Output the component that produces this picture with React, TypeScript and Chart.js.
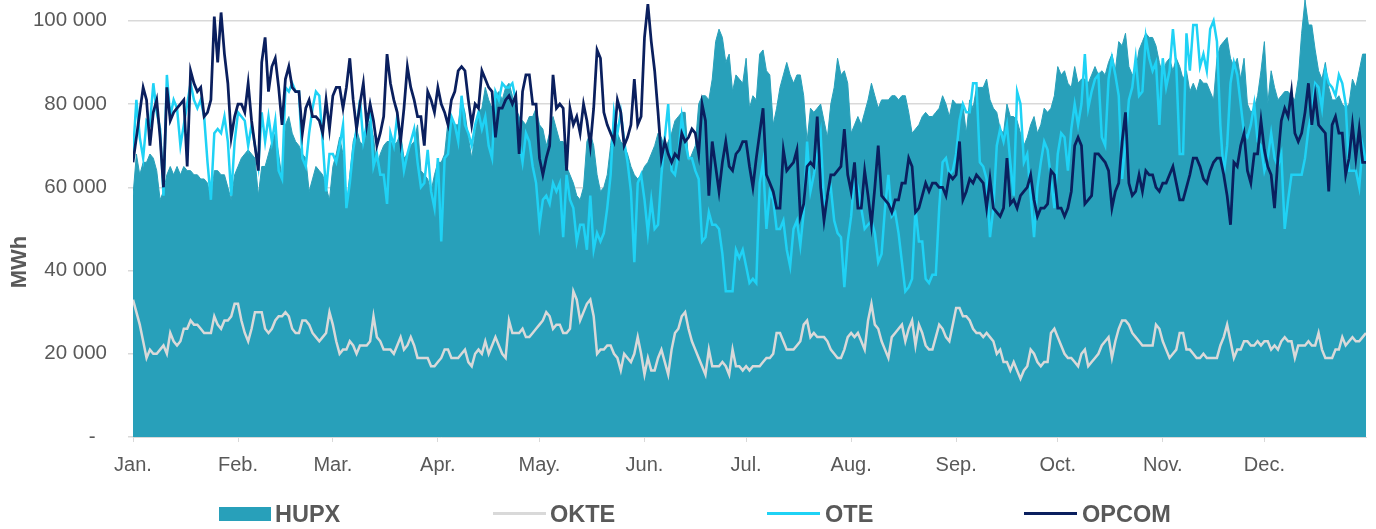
import React, { useEffect, useRef } from 'react';
import { Chart, registerables } from 'chart.js';

Chart.register(...registerables);

// ---- categories / ticks ----
const monthLabels = ['Jan.', 'Feb.', 'Mar.', 'Apr.', 'May.', 'Jun.', 'Jul.', 'Aug.', 'Sep.', 'Oct.', 'Nov.', 'Dec.'];
const monthStartDays = [0, 31, 59, 90, 120, 151, 181, 212, 243, 273, 304, 334];
const yTickValues = [0, 20000, 40000, 60000, 80000, 100000];
const seriesNames = ['HUPX', 'OKTE', 'OTE', 'OPCOM'];

// ---- daily values, thousand MWh (day 0 = 1 Jan) ----
const hupxK = [
  58, 68, 63, 66, 66, 68, 67, 64, 57, 59,
  63, 65, 63, 65, 63, 65, 64, 64, 63, 63,
  62, 62, 61, 57, 64, 64, 63, 63, 60, 57,
  63, 65, 67, 68, 69, 68, 67, 58, 65, 65,
  68, 71, 73, 68, 62, 75, 77, 73, 71, 70,
  68, 67, 59, 62, 65, 64, 63, 60, 57, 65,
  68, 72, 68, 55, 63, 71, 74, 71, 70, 74,
  76, 72, 65, 68, 70, 71, 71, 70, 71, 73,
  67, 68, 70, 71, 75, 64, 63, 62, 59, 63,
  66, 66, 68, 76, 77, 75, 75, 81, 78, 72,
  67, 73, 78, 79, 84, 81, 79, 82, 83, 81,
  84, 85, 82, 79, 77, 76, 75, 77, 77, 79,
  75, 74, 70, 73, 77, 74, 71, 71, 65, 63,
  61, 58, 57, 60, 71, 73, 70, 63, 59, 60,
  63, 70, 77, 73, 71, 70, 68, 65, 63, 62,
  63, 65, 66, 68, 70, 73, 72, 69, 71, 73,
  76, 77, 78, 78, 66, 68, 70, 80, 82, 82,
  81, 86, 95, 98, 96, 90, 92, 83, 87, 86,
  85, 91, 79, 82, 81, 92, 93, 88, 87, 75,
  79, 84, 87, 90, 87, 85, 87, 87, 82, 71,
  79, 78, 79, 80, 76, 72, 80, 84, 91, 87,
  88, 85, 73, 75, 77, 75, 78, 81, 85, 82,
  79, 81, 81, 81, 82, 82, 81, 82, 82, 78,
  73, 74, 75, 77, 78, 77, 77, 78, 79, 82,
  80, 77, 81, 80, 80, 80, 73, 81, 79, 84,
  84, 84, 86, 81, 79, 78, 74, 73, 80, 77,
  77, 76, 73, 70, 72, 75, 77, 73, 75, 79,
  78, 79, 82, 89, 87, 88, 85, 84, 89, 85,
  86, 86, 85, 87, 89, 87, 88, 87, 90, 92,
  88, 95, 94, 97, 89, 87, 88, 93, 95, 97,
  96, 96, 94, 90, 87, 90, 91, 88, 91, 89,
  86, 88, 83, 85, 83, 86, 85, 85, 83, 81,
  91, 94, 95, 96, 91, 89, 91, 86, 91, 80,
  78, 79, 82, 88, 95, 80, 88, 84, 81, 82,
  83, 83, 82, 81, 86, 97, 105, 99, 99, 93,
  88, 86, 90, 84, 81, 81, 82, 80, 79, 80,
  86, 84, 88, 92, 92,
];

const okteK = [
  33, 30, 27, 23, 19, 21, 20, 20, 21, 22,
  20, 25, 23, 22, 23, 26, 26, 28, 27, 27,
  26, 25, 25, 25, 29, 27, 26, 28, 28, 29,
  32, 32, 28, 25, 23, 26, 30, 30, 30, 26,
  25, 26, 28, 29, 29, 30, 29, 26, 25, 25,
  28, 28, 27, 25, 24, 23, 24, 25, 30, 27,
  23, 20, 21, 21, 23, 22, 20, 22, 22, 22,
  23, 29, 24, 23, 21, 21, 21, 20, 22, 24,
  21, 22, 24, 22, 19, 19, 19, 19, 17, 17,
  18, 19, 21, 21, 19, 19, 19, 20, 21, 18,
  17, 20, 21, 20, 23, 20, 22, 24, 22, 20,
  19, 28, 25, 25, 25, 26, 24, 24, 25, 26,
  27, 28, 30, 29, 26, 27, 27, 25, 25, 26,
  35, 33, 28, 30, 32, 33, 29, 20, 21, 21,
  22, 22, 20, 19, 16, 20, 19, 18, 20, 24,
  20, 15, 19, 16, 16, 19, 21, 18, 15, 21,
  25, 26, 29, 30, 26, 23, 21, 19, 17, 15,
  21, 17, 17, 17, 18, 17, 15, 21, 17, 17,
  16, 17, 16, 17, 17, 17, 18, 19, 19, 20,
  25, 25, 23, 21, 21, 21, 22, 23, 27, 28,
  24, 25, 24, 24, 24, 23, 21, 20, 19, 19,
  21, 24, 25, 24, 25, 23, 21, 28, 32, 27,
  26, 23, 21, 19, 24, 25, 26, 27, 23, 26,
  28, 22, 27, 25, 22, 21, 21, 24, 27, 26,
  24, 23, 27, 31, 31, 29, 29, 28, 26, 25,
  25, 24, 25, 24, 23, 20, 21, 18, 18, 16,
  18, 16, 14, 16, 17, 21, 20, 18, 17, 18,
  18, 25, 26, 24, 22, 20, 19, 19, 18, 17,
  20, 21, 17, 18, 19, 20, 22, 23, 24, 19,
  23, 26, 28, 28, 27, 25, 24, 23, 22, 22,
  22, 22, 27, 26, 23, 21, 19, 20, 21, 25,
  25, 21, 21, 20, 19, 19, 20, 19, 19, 19,
  19, 22, 24, 27, 23, 19, 21, 21, 23, 23,
  22, 22, 23, 22, 23, 23, 21, 22, 21, 23,
  24, 23, 23, 19, 22, 22, 22, 23, 22, 22,
  25, 21, 19, 19, 19, 21, 21, 24, 22, 23,
  24, 23, 23, 24, 25,
];

const oteK = [
  68, 81, 72, 67, 76, 75, 85, 78, 74, 58,
  87, 77, 81, 79, 70, 75, 80, 85, 81, 79,
  81, 77, 66, 57, 73, 74, 73, 77, 71, 58,
  71, 78, 77, 76, 70, 75, 70, 65, 78, 71,
  77, 71, 76, 64, 62, 84, 83, 85, 83, 83,
  67, 65, 73, 79, 83, 82, 71, 59, 68, 68,
  66, 70, 75, 55, 61, 69, 74, 81, 71, 75,
  79, 65, 68, 63, 63, 56, 73, 70, 77, 71,
  64, 68, 71, 74, 66, 60, 61, 69, 59, 55,
  67, 47, 67, 68, 77, 75, 71, 82, 75, 73,
  70, 75, 78, 74, 77, 70, 67, 83, 81, 85,
  84, 84, 85, 81, 71, 66, 73, 71, 65, 61,
  51, 57, 58, 56, 61, 59, 61, 48, 63, 57,
  55, 47, 51, 51, 45, 58, 45, 49, 47, 49,
  55, 63, 78, 73, 78, 71, 66, 59, 42, 61,
  63, 57, 49, 57, 50, 51, 63, 72, 80, 64,
  63, 68, 77, 71, 67, 67, 64, 62, 47, 48,
  54, 51, 51, 50, 44, 35, 35, 35, 45, 43,
  45, 41, 37, 38, 37, 61, 66, 50, 59, 57,
  50, 50, 52, 45, 41, 50, 52, 46, 54, 71,
  59, 63, 68, 73, 56, 58, 60, 52, 49, 48,
  36, 47, 53, 63, 60, 55, 50, 51, 52, 49,
  42, 44, 55, 63, 53, 54, 49, 42, 35, 36,
  38, 55, 47, 47, 38, 37, 39, 39, 55, 66,
  67, 63, 64, 68, 76, 80, 78, 78, 85, 85,
  66, 65, 62, 48, 55, 70, 74, 71, 75, 66,
  58, 83, 80, 66, 68, 58, 48, 60, 66, 71,
  69, 62, 55, 68, 73, 72, 64, 74, 80, 75,
  80, 92, 79, 83, 86, 87, 72, 70, 86, 91,
  87, 82, 62, 71, 81, 84, 91, 82, 83, 96,
  91, 88, 90, 75, 91, 84, 88, 98, 89, 68,
  68, 97, 88, 99, 99, 89, 92, 88, 98, 100,
  95, 75, 63, 70, 85, 90, 87, 80, 73, 72,
  75, 80, 71, 70, 64, 67, 73, 67, 65, 68,
  50, 57, 63, 63, 63, 63, 67, 74, 78, 85,
  84, 79, 88, 85, 84, 82, 87, 85, 80, 64,
  64, 64, 60, 70, 66,
];

const opcomK = [
  66, 72, 78, 84, 81, 70, 78, 81, 72, 60,
  84, 76, 78, 79, 80, 81, 65, 88, 85, 83,
  84, 77, 78, 81, 101, 90, 102, 92, 85, 72,
  77, 80, 80, 78, 85, 76, 70, 64, 90, 96,
  83, 89, 91, 84, 75, 86, 89, 84, 83, 83,
  73, 79, 81, 77, 77, 76, 73, 81, 74, 82,
  84, 84, 79, 84, 91, 81, 74, 80, 85, 75,
  80, 76, 70, 73, 77, 92, 85, 81, 78, 71,
  79, 89, 84, 81, 77, 77, 70, 83, 81, 78,
  84, 80, 78, 75, 81, 83, 88, 89, 88, 81,
  75, 80, 79, 88, 86, 84, 83, 72, 79, 79,
  81, 82, 80, 82, 68, 83, 87, 87, 80, 80,
  67, 63, 67, 70, 87, 79, 80, 79, 64, 79,
  75, 77, 73, 80, 76, 70, 79, 93, 91, 78,
  75, 73, 71, 81, 78, 70, 72, 75, 86, 75,
  77, 96, 104, 95, 88, 78, 67, 71, 68, 66,
  68, 67, 73, 71, 72, 74, 73, 68, 80, 76,
  58, 71, 65, 59, 66, 71, 65, 64, 68, 69,
  71, 71, 65, 60, 67, 73, 79, 63, 61, 59,
  55, 55, 69, 64, 65, 66, 69, 53, 56, 65,
  66, 65, 77, 60, 52, 58, 63, 63, 64, 65,
  74, 63, 59, 66, 55, 55, 64, 58, 51, 60,
  70, 58, 57, 56, 54, 57, 57, 61, 61, 67,
  65, 54, 55, 58, 61, 59, 61, 61, 60, 60,
  58, 63, 62, 63, 71, 57, 59, 62, 61, 63,
  62, 61, 55, 62, 55, 54, 53, 55, 67, 56,
  57, 55, 58, 59, 60, 63, 57, 53, 55, 55,
  56, 64, 63, 55, 55, 53, 55, 59, 70, 72,
  70, 56, 57, 58, 68, 68, 67, 66, 64, 55,
  59, 61, 71, 78, 61, 58, 59, 63, 59, 64,
  63, 63, 60, 59, 61, 61, 63, 65, 61, 57,
  57, 60, 63, 67, 67, 65, 62, 61, 64, 66,
  67, 67, 63, 58, 51, 66, 65, 70, 73, 64,
  61, 68, 68, 76, 69, 65, 63, 55, 67, 76,
  79, 77, 83, 73, 71, 73, 78, 85, 75, 82,
  75, 74, 73, 59, 75, 77, 73, 73, 63, 67,
  75, 67, 74, 66, 66,
];

const TEAL = '#28A0BA';
const GRAY_LINE = '#D9D9D9';
const CYAN = '#1FD2F5';
const NAVY = '#0A1F5E';
const TEXT = '#595959';
const FONT = "'Liberation Sans', Arial, Helvetica, sans-serif";

const toPoints = (arr: number[]) => arr.map((v, i) => ({ x: i, y: v * 1000 }));
const fmt = (v: number) => (v === 0 ? '-  ' : String(v).replace(/\B(?=(\d{3})+(?!\d))/g, ' '));

const yTitlePlugin = {
  id: 'yTitle',
  afterDraw(chart: any) {
    const ctx = chart.ctx;
    ctx.save();
    ctx.translate(20, 262);
    ctx.rotate(-Math.PI / 2);
    ctx.font = `bold 22px ${FONT}`;
    ctx.fillStyle = TEXT;
    ctx.textAlign = 'center';
    ctx.textBaseline = 'middle';
    ctx.fillText('MWh', 0, 0);
    ctx.restore();
  },
};

export default function App() {
  const canvasRef = useRef<HTMLCanvasElement | null>(null);

  useEffect(() => {
    if (!canvasRef.current) return;
    const chart = new Chart(canvasRef.current, {
      type: 'line',
      data: {
        datasets: [
          { label: 'OPCOM', data: toPoints(opcomK), borderColor: NAVY, borderWidth: 2.75, pointRadius: 0, fill: false, tension: 0, order: 0 },
          { label: 'OTE', data: toPoints(oteK), borderColor: CYAN, borderWidth: 2.5, pointRadius: 0, fill: false, tension: 0, order: 1 },
          { label: 'OKTE', data: toPoints(okteK), borderColor: GRAY_LINE, borderWidth: 2.5, pointRadius: 0, fill: false, tension: 0, order: 2 },
          { label: 'HUPX', data: toPoints(hupxK), borderColor: TEAL, backgroundColor: TEAL, borderWidth: 1, pointRadius: 0, fill: 'origin', tension: 0, order: 3 },
        ],
      },
      options: {
        responsive: false,
        animation: false,
        devicePixelRatio: 1,
        events: [],
        layout: { padding: { left: 0, right: 10, top: 0, bottom: 0 } },
        plugins: { legend: { display: false }, tooltip: { enabled: false } },
        scales: {
          x: {
            type: 'linear',
            min: 0,
            max: 364,
            afterBuildTicks: (s: any) => {
              s.ticks = monthStartDays.map((v) => ({ value: v }));
            },
            afterFit: (s: any) => {
              s.height = 92;
              s.paddingLeft = 0;
              s.paddingRight = 0;
            },
            ticks: {
              autoSkip: false,
              maxRotation: 0,
              color: TEXT,
              font: { family: FONT, size: 20 },
              padding: 11,
              callback: (v: any) => {
                const i = monthStartDays.indexOf(Number(v));
                return i >= 0 ? monthLabels[i] : '';
              },
            },
            grid: { drawOnChartArea: false, drawTicks: true, tickLength: 5, color: '#D9D9D9', lineWidth: 1 },
            border: { display: true, color: '#D9D9D9', width: 1 },
          },
          y: {
            min: 0,
            max: 105000,
            z: 1,
            afterBuildTicks: (s: any) => {
              s.ticks = yTickValues.map((v) => ({ value: v }));
            },
            afterFit: (s: any) => {
              s.width = 133;
              s.paddingTop = 0;
              s.paddingBottom = 0;
            },
            ticks: {
              color: TEXT,
              font: { family: FONT, size: 20.5 },
              padding: 21,
              callback: (v: any) => fmt(Number(v)),
            },
            grid: { color: 'rgba(0,0,0,0.15)', lineWidth: 1.5, drawTicks: true, tickLength: 5 },
            border: { display: false },
          },
        },
      } as any,
      plugins: [yTitlePlugin],
    });
    return () => chart.destroy();
  }, []);

  const legendItems = [
    { name: seriesNames[0], kind: 'box', color: TEAL, x: 219, tx: 275 },
    { name: seriesNames[1], kind: 'line', color: GRAY_LINE, x: 493, tx: 550 },
    { name: seriesNames[2], kind: 'line', color: CYAN, x: 767, tx: 825 },
    { name: seriesNames[3], kind: 'line', color: NAVY, x: 1024, tx: 1082 },
  ];

  return (
    <div style={{ position: 'absolute', left: 0, top: 0, width: 1376, height: 529, background: '#fff', overflow: 'hidden' }}>
      <canvas ref={canvasRef} width={1376} height={529} style={{ display: 'block', width: 1376, height: 529 }} />
      {legendItems.map((it) => (
        <React.Fragment key={it.name}>
          {it.kind === 'box' ? (
            <div style={{ position: 'absolute', left: it.x, top: 507, width: 52, height: 14, background: it.color }} />
          ) : (
            <div style={{ position: 'absolute', left: it.x, top: 512, width: 53, height: 3, background: it.color }} />
          )}
          <div
            style={{
              position: 'absolute',
              left: it.tx,
              top: 500,
              height: 28,
              lineHeight: '28px',
              fontFamily: FONT,
              fontWeight: 'bold',
              fontSize: 23.5,
              color: TEXT,
              whiteSpace: 'nowrap',
            }}
          >
            {it.name}
          </div>
        </React.Fragment>
      ))}
    </div>
  );
}
